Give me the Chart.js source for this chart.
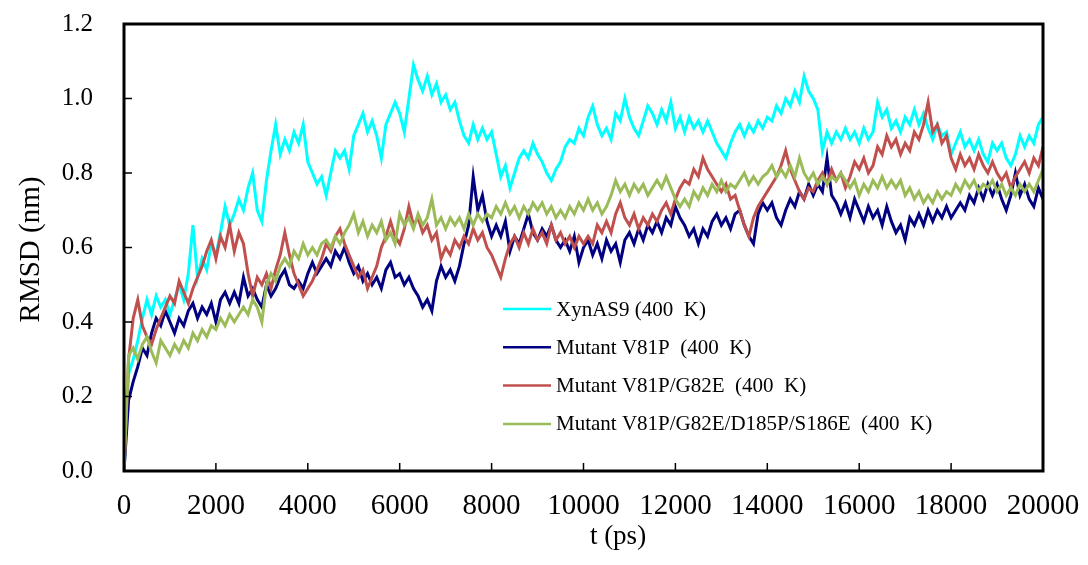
<!DOCTYPE html>
<html>
<head>
<meta charset="utf-8">
<title>RMSD</title>
<script src="https://cdn.jsdelivr.net/npm/chart.js@4.4.1/dist/chart.umd.min.js"></script>
<style>
  html, body { margin: 0; padding: 0; background: #fff; }
  #wrap { width: 1088px; height: 565px; position: relative; }
</style>
</head>
<body>
<div id="wrap"><canvas id="rmsdChart"></canvas></div>
<script>
// samples every 100 ps, 0 .. 20000 ps
const sampleStepPs = 100;

const seriesLabels = [
  'XynAS9 (400  K)',
  'Mutant V81P  (400  K)',
  'Mutant V81P/G82E  (400  K)',
  'Mutant V81P/G82E/D185P/S186E  (400  K)'
];

const xTickValues = [0, 2000, 4000, 6000, 8000, 10000, 12000, 14000, 16000, 18000, 20000];
const yTickValues = [0, 0.2, 0.4, 0.6, 0.8, 1.0, 1.2];

const rmsdWild = [0.00,
  0.26,0.30,0.35,0.41,0.46,0.42,0.47,0.44,0.46,0.42,
  0.46,0.50,0.46,0.53,0.66,0.52,0.57,0.54,0.61,0.58,
  0.64,0.71,0.66,0.69,0.73,0.70,0.76,0.80,0.70,0.67,
  0.78,0.86,0.93,0.85,0.89,0.86,0.91,0.88,0.93,0.83,
  0.80,0.77,0.79,0.74,0.80,0.86,0.84,0.86,0.81,0.90,
  0.93,0.96,0.91,0.94,0.90,0.84,0.93,0.96,0.99,0.96,
  0.91,1.00,1.09,1.05,1.02,1.06,1.01,1.04,0.99,1.01,
  0.97,0.99,0.94,0.90,0.88,0.93,0.89,0.92,0.89,0.91,
  0.85,0.79,0.82,0.76,0.80,0.84,0.86,0.84,0.88,0.85,
  0.83,0.80,0.78,0.81,0.83,0.87,0.89,0.88,0.92,0.90,
  0.95,0.98,0.93,0.90,0.92,0.89,0.96,0.94,1.00,0.95,
  0.92,0.90,0.94,0.98,0.96,0.93,0.97,0.94,0.99,0.92,
  0.95,0.91,0.95,0.92,0.94,0.91,0.94,0.91,0.88,0.86,
  0.84,0.88,0.91,0.93,0.90,0.93,0.91,0.94,0.92,0.95,
  0.94,0.98,0.96,1.00,0.98,1.02,0.99,1.06,1.02,1.00,
  0.97,0.86,0.91,0.88,0.91,0.89,0.92,0.89,0.91,0.88,
  0.92,0.89,0.91,0.99,0.95,0.97,0.92,0.94,0.91,0.95,
  0.93,0.97,0.93,0.96,0.92,0.89,0.93,0.90,0.91,0.85,
  0.88,0.91,0.87,0.89,0.86,0.89,0.85,0.83,0.88,0.86,
  0.88,0.84,0.82,0.85,0.90,0.87,0.90,0.88,0.93,0.95];

const rmsdV81P = [0.00,
  0.19,0.24,0.28,0.33,0.31,0.37,0.41,0.39,0.43,0.40,
  0.37,0.41,0.39,0.43,0.45,0.41,0.44,0.42,0.45,0.40,
  0.46,0.48,0.45,0.48,0.45,0.52,0.47,0.49,0.46,0.44,
  0.50,0.47,0.49,0.52,0.54,0.50,0.49,0.51,0.49,0.53,
  0.56,0.53,0.55,0.57,0.55,0.59,0.57,0.60,0.56,0.53,
  0.55,0.51,0.53,0.50,0.52,0.49,0.54,0.56,0.52,0.53,
  0.50,0.52,0.49,0.47,0.44,0.46,0.43,0.51,0.55,0.52,
  0.54,0.51,0.55,0.61,0.66,0.79,0.70,0.74,0.67,0.63,
  0.66,0.63,0.67,0.59,0.63,0.61,0.65,0.69,0.64,0.62,
  0.65,0.63,0.66,0.62,0.60,0.62,0.59,0.63,0.56,0.60,
  0.62,0.58,0.61,0.57,0.62,0.59,0.61,0.56,0.62,0.64,
  0.61,0.65,0.62,0.66,0.64,0.67,0.64,0.68,0.66,0.71,
  0.68,0.66,0.63,0.65,0.61,0.65,0.63,0.67,0.69,0.66,
  0.68,0.65,0.69,0.70,0.66,0.63,0.61,0.69,0.72,0.70,
  0.72,0.68,0.66,0.70,0.73,0.71,0.75,0.73,0.77,0.74,
  0.77,0.75,0.84,0.74,0.72,0.69,0.72,0.68,0.73,0.70,
  0.67,0.71,0.68,0.70,0.66,0.71,0.67,0.64,0.66,0.62,
  0.68,0.66,0.69,0.66,0.70,0.67,0.70,0.68,0.71,0.68,
  0.70,0.72,0.70,0.74,0.72,0.76,0.73,0.77,0.74,0.77,
  0.73,0.70,0.74,0.80,0.74,0.77,0.73,0.71,0.76,0.73];

const rmsdV81PG82E = [0.00,
  0.30,0.41,0.46,0.39,0.36,0.34,0.38,0.41,0.44,0.47,
  0.45,0.51,0.48,0.45,0.49,0.52,0.55,0.59,0.62,0.57,
  0.63,0.60,0.66,0.59,0.64,0.61,0.53,0.47,0.52,0.50,
  0.53,0.49,0.54,0.58,0.64,0.58,0.53,0.50,0.47,0.49,
  0.51,0.54,0.57,0.61,0.59,0.63,0.65,0.61,0.58,0.55,
  0.52,0.54,0.49,0.52,0.55,0.60,0.63,0.67,0.63,0.61,
  0.65,0.71,0.66,0.68,0.64,0.66,0.62,0.64,0.57,0.60,
  0.58,0.62,0.60,0.63,0.61,0.65,0.62,0.64,0.60,0.58,
  0.55,0.52,0.57,0.61,0.63,0.60,0.64,0.61,0.65,0.62,
  0.64,0.61,0.66,0.62,0.64,0.61,0.63,0.60,0.63,0.61,
  0.63,0.61,0.66,0.64,0.67,0.64,0.69,0.72,0.68,0.66,
  0.69,0.65,0.68,0.66,0.69,0.67,0.70,0.72,0.69,0.73,
  0.76,0.78,0.77,0.81,0.79,0.84,0.81,0.79,0.77,0.75,
  0.77,0.73,0.74,0.70,0.66,0.63,0.68,0.71,0.73,0.75,
  0.77,0.79,0.82,0.86,0.81,0.78,0.75,0.73,0.76,0.75,
  0.78,0.80,0.77,0.81,0.78,0.80,0.76,0.79,0.83,0.81,
  0.84,0.80,0.82,0.87,0.85,0.90,0.87,0.89,0.85,0.88,
  0.86,0.91,0.89,0.93,0.99,0.91,0.93,0.88,0.90,0.84,
  0.81,0.85,0.82,0.84,0.81,0.85,0.82,0.80,0.83,0.80,
  0.78,0.80,0.76,0.79,0.81,0.83,0.80,0.84,0.82,0.87];

const rmsdQuad = [0.00,
  0.31,0.33,0.30,0.34,0.36,0.32,0.29,0.35,0.33,0.31,
  0.34,0.32,0.35,0.33,0.37,0.35,0.38,0.36,0.39,0.38,
  0.41,0.39,0.42,0.40,0.42,0.44,0.42,0.46,0.44,0.40,
  0.50,0.53,0.51,0.55,0.57,0.55,0.59,0.57,0.61,0.58,
  0.60,0.58,0.61,0.62,0.60,0.63,0.61,0.64,0.66,0.69,
  0.64,0.67,0.63,0.66,0.64,0.67,0.62,0.64,0.61,0.69,
  0.66,0.68,0.65,0.69,0.66,0.68,0.73,0.66,0.68,0.65,
  0.68,0.66,0.68,0.65,0.69,0.66,0.69,0.67,0.69,0.68,
  0.71,0.69,0.72,0.69,0.71,0.68,0.71,0.69,0.72,0.70,
  0.72,0.69,0.71,0.68,0.70,0.68,0.71,0.69,0.72,0.70,
  0.73,0.70,0.72,0.69,0.71,0.74,0.78,0.75,0.77,0.74,
  0.77,0.75,0.77,0.74,0.76,0.78,0.76,0.79,0.76,0.73,
  0.71,0.73,0.71,0.75,0.73,0.76,0.74,0.77,0.75,0.78,
  0.75,0.77,0.76,0.78,0.80,0.77,0.79,0.77,0.79,0.80,
  0.82,0.79,0.81,0.79,0.82,0.79,0.84,0.80,0.78,0.80,
  0.77,0.79,0.77,0.79,0.78,0.80,0.78,0.76,0.78,0.74,
  0.77,0.75,0.78,0.76,0.79,0.76,0.78,0.76,0.78,0.74,
  0.76,0.73,0.75,0.72,0.74,0.72,0.75,0.73,0.75,0.74,
  0.77,0.75,0.78,0.76,0.78,0.75,0.77,0.76,0.78,0.75,
  0.77,0.74,0.76,0.74,0.77,0.75,0.77,0.75,0.78,0.81];

const seriesValues = [rmsdWild, rmsdV81P, rmsdV81PG82E, rmsdQuad];
const seriesColors = ['#00FFFF', '#000080', '#C0504D', '#9BBB59'];

const serif = "'Liberation Serif', 'Times New Roman', serif";
Chart.defaults.font.family = serif;
Chart.defaults.color = '#000';

const toPoints = vals => vals.map((v, i) => ({ x: i * sampleStepPs, y: v }));

// box, inward tick marks, legend and axis titles
const decorations = {
  id: 'decorations',
  afterDatasetsDraw(chart) {
    const { ctx, chartArea: a, scales: { x, y } } = chart;
    ctx.save();
    ctx.strokeStyle = '#000';
    ctx.lineWidth = 1.5;
    ctx.beginPath();
    y.ticks.forEach(t => {
      if (t.value <= y.min || t.value >= y.max) return;
      const py = y.getPixelForValue(t.value);
      ctx.moveTo(a.left, py);
      ctx.lineTo(a.left + 8, py);
    });
    x.ticks.forEach(t => {
      if (t.value <= x.min || t.value >= x.max) return;
      const px = x.getPixelForValue(t.value);
      ctx.moveTo(px, a.bottom);
      ctx.lineTo(px, a.bottom - 8);
    });
    ctx.stroke();
    ctx.lineWidth = 3;
    ctx.strokeRect(a.left, a.top, a.right - a.left, a.bottom - a.top);

    // legend
    ctx.font = '21px ' + serif;
    ctx.textBaseline = 'middle';
    ctx.textAlign = 'left';
    ctx.fillStyle = '#000';
    chart.data.datasets.forEach((ds, i) => {
      const ly = 309 + i * 38.3;
      ctx.strokeStyle = ds.borderColor;
      ctx.lineWidth = 2.5;
      ctx.beginPath();
      ctx.moveTo(503, ly);
      ctx.lineTo(551, ly);
      ctx.stroke();
      ctx.fillText(ds.label, 556, ly + 1);
    });

    // axis titles
    ctx.textAlign = 'center';
    ctx.font = '27px ' + serif;
    ctx.fillText('t (ps)', 618, 537);
    ctx.font = '29px ' + serif;
    ctx.translate(31, (a.top + a.bottom) / 2 + 2);
    ctx.rotate(-Math.PI / 2);
    ctx.fillText('RMSD (nm)', 0, 0);
    ctx.restore();
  }
};

new Chart(document.getElementById('rmsdChart'), {
  type: 'line',
  data: {
    datasets: seriesValues.map((vals, i) => ({
      label: seriesLabels[i],
      data: toPoints(vals),
      borderColor: seriesColors[i],
      backgroundColor: seriesColors[i],
      borderWidth: 3,
      pointRadius: 0,
      tension: 0,
      order: seriesValues.length - i
    }))
  },
  options: {
    responsive: true,
    maintainAspectRatio: false,
    animation: false,
    layout: { padding: { left: 0, top: 24, right: 45, bottom: 0 } },
    plugins: { legend: { display: false }, tooltip: { enabled: false } },
    scales: {
      x: {
        type: 'linear',
        min: 0,
        max: 20000,
        afterBuildTicks: s => { s.ticks = xTickValues.map(v => ({ value: v })); },
        afterFit: s => {
          s.height = 94;
          s.paddingLeft = 0;
          s.paddingRight = 0;
        },
        grid: { display: false, drawTicks: false },
        border: { display: false },
        ticks: { font: { size: 29 }, padding: 18, maxRotation: 0, autoSkip: false,
                 callback: v => String(v) }
      },
      y: {
        min: 0,
        max: 1.2,
        afterBuildTicks: s => { s.ticks = yTickValues.map(v => ({ value: v })); },
        afterFit: s => {
          s.width = 124;
          s.paddingTop = 0;
          s.paddingBottom = 0;
        },
        grid: { display: false, drawTicks: false },
        border: { display: false },
        ticks: { font: { size: 25 }, padding: 31, callback: v => v.toFixed(1) }
      }
    }
  },
  plugins: [decorations]
});
</script>
</body>
</html>
